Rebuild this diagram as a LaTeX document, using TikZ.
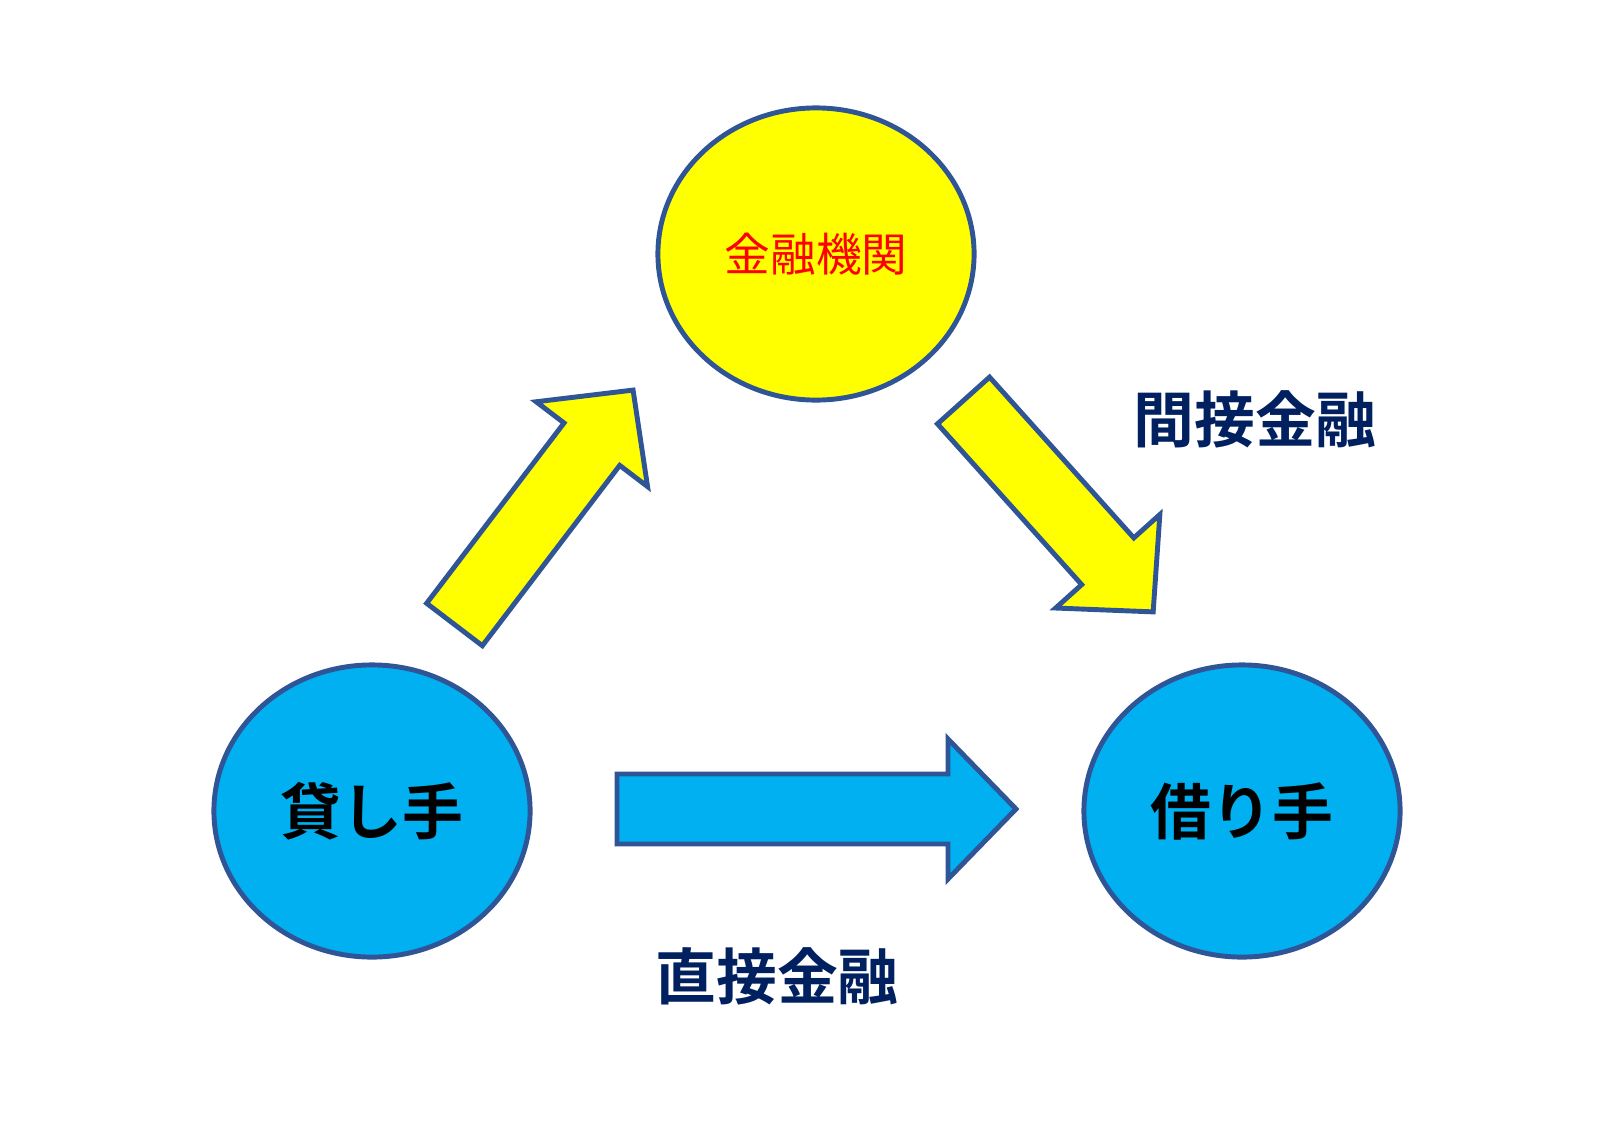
\documentclass[tikz,border=0pt]{standalone}
\usepackage{fontspec}
\usepackage{tikz}
\usepackage{xcolor}
\usetikzlibrary{positioning,shapes.geometric}
\newfontfamily\jpfont{Noto Sans CJK JP}[BoldFont={Noto Sans CJK JP Bold}]
\definecolor{edgeblue}{HTML}{2F5597}
\definecolor{partycyan}{HTML}{00B0F0}
\definecolor{bankyellow}{HTML}{FFFF00}
\definecolor{labelnavy}{HTML}{002060}
% block arrow: #1 tail, #2 angle, #3 length, #4 fill
\newcommand{\blockarrow}[4]{%
  \draw[flow, fill=#4, shift={(#1)}, rotate=#2]
    (0,-35) -- ({#3-68},-35) -- ({#3-68},-70) -- (#3,0)
    -- ({#3-68},70) -- ({#3-68},35) -- (0,35) -- cycle;}

\begin{document}
\begin{tikzpicture}[
  x=0.01cm, y=-0.01cm,
  party/.style={ellipse, draw=edgeblue, line width=1.4pt, fill=partycyan,
                minimum width=3.16cm, minimum height=2.92cm, inner sep=0pt,
                font=\jpfont\fontsize{17.3}{20}\selectfont\bfseries, text=black},
  bank/.style={party, fill=bankyellow, text=red,
               font=\jpfont\fontsize{13}{16}\selectfont},
  flow/.style={draw=edgeblue, line width=1.4pt, line join=miter},
  kind/.style={font=\jpfont\fontsize{17.3}{20}\selectfont\bfseries, text=labelnavy},
]
\useasboundingbox (0,0) rectangle (1600,1130);

% Parties
\node[bank]  (bank)     at (816,254) {金融機関};
\node[party] (lender)   at (372,811) {貸し手};
\node[party] (borrower) at (1242,811) {借り手};

% Arrow tails
\coordinate (lend2bank)   at (454.5,624.5);
\coordinate (bank2borrow) at (963.5,400.5);
\coordinate (direct)      at (617,809);

% Indirect finance
\blockarrow{lend2bank}{52.7}{294.7}{bankyellow}
\blockarrow{bank2borrow}{-48.1}{284}{bankyellow}

% Direct finance
\blockarrow{direct}{0}{399}{partycyan}

% Labels
\node[kind] (indirectlbl) at (1255,419) {間接金融};
\node[kind] (directlbl)   at (777,976) {直接金融};

\end{tikzpicture}
\end{document}
